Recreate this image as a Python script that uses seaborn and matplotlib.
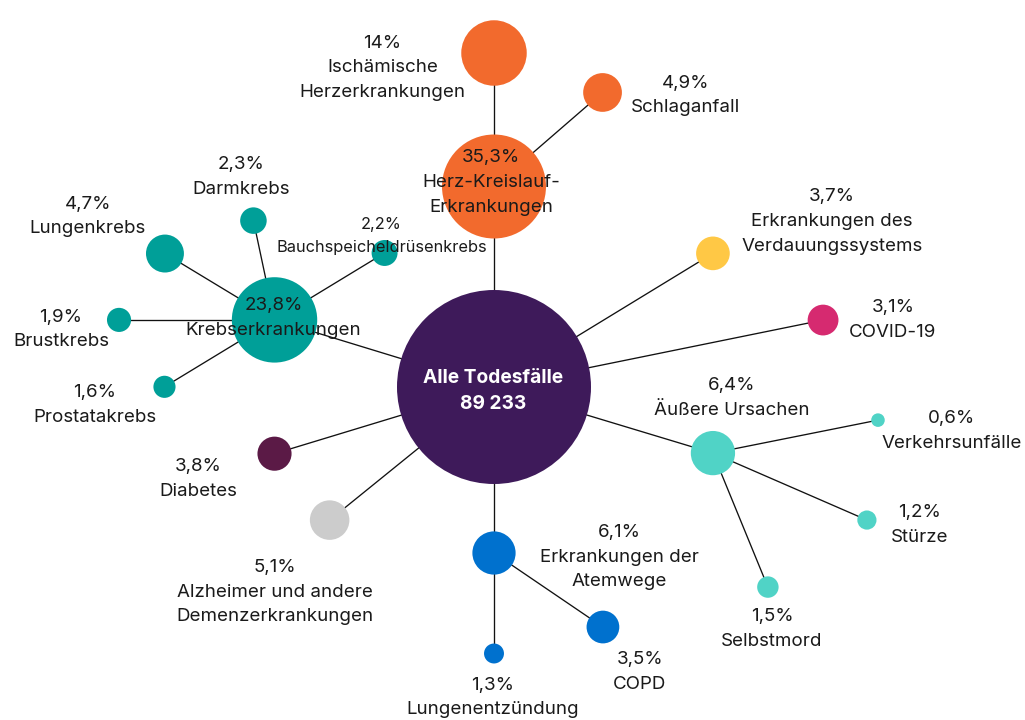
import numpy as np
import pandas as pd
import seaborn as sns
import matplotlib.pyplot as plt

# data
total_deaths = 89233
names = ["Alle Todesfälle", "Herz-Kreislauf-\nErkrankungen", "Ischämische\nHerzerkrankungen",
         "Schlaganfall", "Krebserkrankungen", "Lungenkrebs", "Darmkrebs",
         "Bauchspeicheldrüsenkrebs", "Brustkrebs", "Prostatakrebs",
         "Erkrankungen des\nVerdauungssystems", "COVID-19", "Äußere Ursachen",
         "Verkehrsunfälle", "Stürze", "Selbstmord", "Erkrankungen der\nAtemwege",
         "COPD", "Lungenentzündung", "Alzheimer und andere\nDemenzerkrankungen", "Diabetes"]
shares = [100, 35.3, 14, 4.9, 23.8, 4.7, 2.3, 2.2, 1.9, 1.6, 3.7, 3.1, 6.4,
          0.6, 1.2, 1.5, 6.1, 3.5, 1.3, 5.1, 3.8]
parents = [-1, 0, 1, 1, 0, 4, 4, 4, 4, 4, 0, 0, 0, 12, 12, 12, 0, 16, 16, 0, 0]

# layout (pixels, angle in degrees measured from the parent node)
angles = [0, 90, 90, 40.9, 163.0, 148.8, 102.0, 31.3, 180, 211.3, 31.4, 11.5, -16.8,
          11.3, -23.5, -67.7, -90, -34.2, -90, 219.0, 196.9]
dists = [0, 200.5, 133.5, 143.6, 229.5, 128.1, 101.5, 128.8, 155.5, 128.8, 256.5, 335.8,
         228.7, 168.3, 167.9, 144.8, 166, 131.7, 100.5, 211.5, 229.4]
label_dx = [-1, -3, -111.5, 83, -1, -77, -12, -3, -58, -69.5, 119, 70, 19, 73.5, 53, 4,
            125, 37, -1, -55, -76]
label_dy = [4, -4, 15, 3, -2, -37, -44, -17, 9.5, 18, -32, 0, -55.5, 11, 5, 42, 4, 45,
            44, 72, 25]
colors = ["#3E1A5A", "#F26A2D", "#F26A2D", "#F26A2D", "#009F98", "#009F98", "#009F98",
          "#009F98", "#009F98", "#009F98", "#FFC845", "#D62A70", "#50D3C6", "#50D3C6",
          "#50D3C6", "#50D3C6", "#0071CE", "#0071CE", "#0071CE", "#CCCCCC", "#5B1A46"]

W, H, DPI = 1025, 720, 100
center = (494, 387)
center_r = 97
k = 8.75  # px per sqrt(percent)

xs, ys = [], []
for i, p in enumerate(parents):
    if p < 0:
        xs.append(center[0]); ys.append(center[1])
        continue
    a = np.radians(angles[i])
    xs.append(xs[p] + dists[i] * np.cos(a))
    ys.append(ys[p] - dists[i] * np.sin(a))

radii = [center_r if p < 0 else k * np.sqrt(v) for v, p in zip(shares, parents)]
df = pd.DataFrame({"name": names, "share": shares, "x": xs, "y": ys,
                   "s": [(2 * r * 72 / DPI) ** 2 for r in radii]})

sns.set_style("white")
plt.rcParams["font.family"] = ["Inter", "DejaVu Sans"]

fig = plt.figure(figsize=(W / DPI, H / DPI), dpi=DPI)
ax = fig.add_axes([0, 0, 1, 1])

for i, p in enumerate(parents):
    if p >= 0:
        ax.plot([xs[p], xs[i]], [ys[p], ys[i]], color="#111111", lw=0.95, zorder=1)

sns.scatterplot(data=df, x="x", y="y", hue="name", palette=dict(zip(names, colors)),
                s=df["s"], linewidth=0, legend=False, ax=ax, zorder=2)


def pct(v):
    txt = f"{v:.1f}".replace(".", ",")
    return (txt[:-2] if txt.endswith(",0") else txt) + "%"


for i, name in enumerate(names):
    lx, ly = xs[i] + label_dx[i], ys[i] + label_dy[i]
    if parents[i] < 0:
        ax.text(lx, ly, f"{name}\n{total_deaths:,}".replace(",", " "), ha="center", va="center",
                color="white", fontsize=13.8, fontweight="bold", linespacing=1.6, zorder=3)
        continue
    fs = 11.8 if name == "Bauchspeicheldrüsenkrebs" else 13.5
    ax.text(lx, ly, f"{pct(shares[i])}\n{name}", ha="center", va="center", color="#1a1a1a",
            fontsize=fs, linespacing=1.6, zorder=3)

ax.set_xlim(0, W)
ax.set_ylim(H, 0)
ax.axis("off")
fig.savefig("out.png", dpi=DPI)
